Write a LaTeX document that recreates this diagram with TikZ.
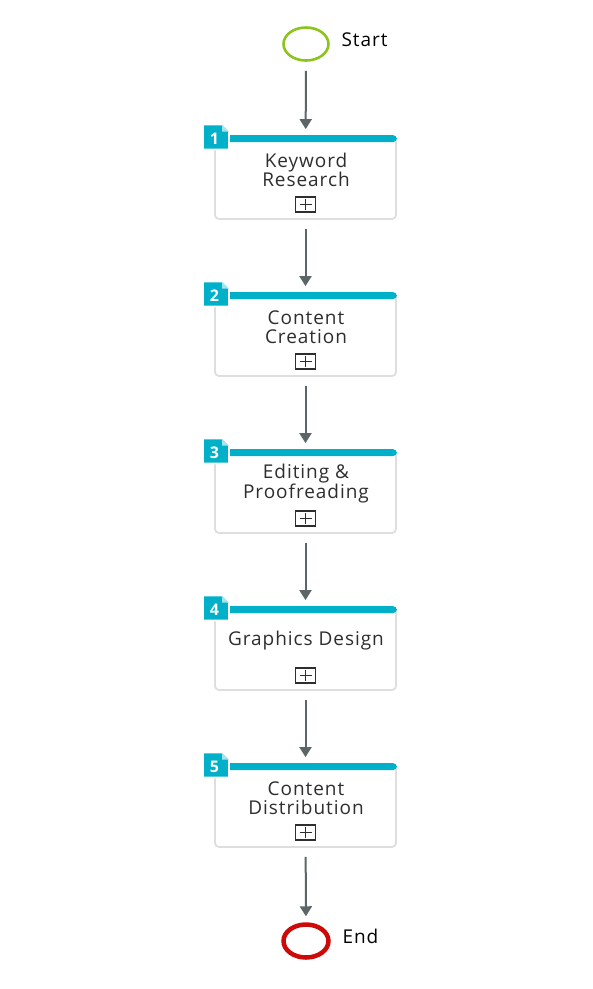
\documentclass[tikz,border=0pt]{standalone}
\usepackage{fontspec}
\setmainfont{Open Sans}[LetterSpace=5]
\usetikzlibrary{arrows.meta, positioning, shapes.geometric}
\definecolor{stepteal}{HTML}{00B0C8}
\definecolor{startgreen}{HTML}{8CC41E}
\definecolor{endred}{HTML}{CC0A0A}
\definecolor{flowgray}{HTML}{5C6666}
\definecolor{textgray}{HTML}{2E2E2E}

\begin{document}
\begin{tikzpicture}[x=1pt, y=-1pt,
        event/.style={ellipse, draw, minimum width=45pt, minimum height=33pt, inner sep=0pt},
        eventlabel/.style={anchor=west, text=black, font=\fontsize{19}{19}\selectfont},
        task/.style={rectangle, rounded corners=4pt, draw=black!13, line width=1.8pt, fill=white,
                     minimum width=181pt, minimum height=83pt, inner sep=0pt},
        tasklabel/.style={align=center, text=textgray, font=\fontsize{19}{19}\selectfont},
        badge/.style={minimum size=24pt, inner sep=0pt, text=white, font=\fontsize{16}{16}\selectfont\bfseries},
        expand/.style={rectangle, draw=textgray, line width=1.8pt, minimum width=20pt, minimum height=15pt, inner sep=0pt},
        flow/.style={draw=flowgray, line width=2pt, -{Triangle[width=12pt, length=10pt]}}
      ]
        \useasboundingbox (0,0) rectangle (593,989);

        % Start and end events
        \node[event, draw=startgreen, line width=2.6pt] (start) at (306,44) {};
        \node[eventlabel] (startlbl) at (338,40) {Start};
        \node[event, draw=endred, line width=4.5pt] (end) at (306,941) {};
        \node[eventlabel] (endlbl) at (339,936) {End};

        % Tasks
        \node[task] (t1) at (305.5,177.5) {};
        \node[task] (t2) at (305.5,334.5) {};
        \node[task] (t3) at (305.5,491.5) {};
        \node[task] (t4) at (305.5,648.5) {};
        \node[task] (t5) at (305.5,805.5) {};

        % Teal bars on top of the tasks
        \foreach \tk in {t1,t2,t3,t4,t5}
          \fill[stepteal] ([yshift=-7pt]\tk.north west) [rounded corners=4pt] |- (\tk.north) -| ([yshift=-7pt]\tk.north east) [sharp corners] -- cycle;

        % Task texts
        \node[tasklabel] (l1) at (306,170) {Keyword\\Research};
        \node[tasklabel] (l2) at (306,327) {Content\\Creation};
        \node[tasklabel] (l3) at (306,484) {Editing \&\\Proofreading};
        \node[tasklabel] (l4) at (306,641) {Graphics Design};
        \node[tasklabel] (l5) at (306,798) {Content\\Distribution};

        % Expand markers
        \foreach \i/\y in {1/204.5, 2/361.5, 3/518.5, 4/675.5, 5/832.5} {
          \node[expand] (p\i) at (305.5,\y) {};
          \draw[textgray, line width=1.8pt] ([xshift=-6pt]p\i.center) -- ([xshift=6pt]p\i.center)
                                            ([yshift=-5.5pt]p\i.center) -- ([yshift=5.5pt]p\i.center);
        }

        % Number badges with folded corner
        \foreach \i/\y in {1/137, 2/294, 3/451, 4/608, 5/765} {
          \filldraw[fill=stepteal, draw=white, line width=1.6pt]
            ([yshift=-12.5pt,xshift=-13pt]216,\y) -- ([yshift=12.5pt,xshift=-13pt]216,\y)
            -- ([yshift=12.5pt,xshift=6pt]216,\y) -- ([yshift=5.5pt,xshift=13pt]216,\y)
            -- ([yshift=-12.5pt,xshift=13pt]216,\y) -- cycle;
          \fill[stepteal!35!white] ([yshift=12.5pt,xshift=6pt]216,\y) -- ([yshift=5.5pt,xshift=6pt]216,\y)
            -- ([yshift=5.5pt,xshift=13pt]216,\y) -- cycle;
          \node[badge] (b\i) at (214.5,\y+2) {\i};
        }

        % Sequence flows
        \draw[flow, shorten <=9pt, shorten >=6pt] (start) -- (t1);
        \draw[flow, shorten <=9pt, shorten >=6pt] (t1) -- (t2);
        \draw[flow, shorten <=9pt, shorten >=6pt] (t2) -- (t3);
        \draw[flow, shorten <=9pt, shorten >=6pt] (t3) -- (t4);
        \draw[flow, shorten <=9pt, shorten >=6pt] (t4) -- (t5);
        \draw[flow, shorten <=9pt, shorten >=6pt] (t5) -- (end);
      \end{tikzpicture}
\end{document}
